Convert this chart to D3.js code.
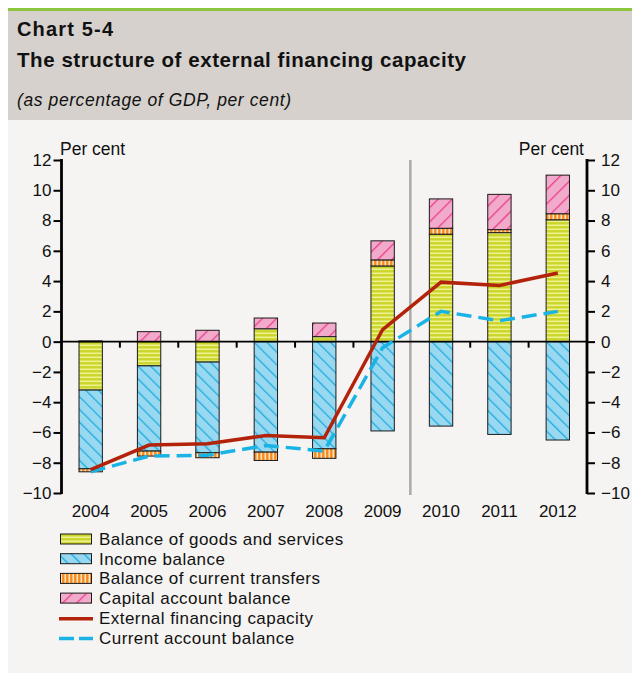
<!DOCTYPE html>
<html><head><meta charset="utf-8">
<script src="https://cdn.jsdelivr.net/npm/d3@7"></script>
<style>body{margin:0;background:#fff}svg{display:block}text{font-family:"Liberation Sans",Arial,sans-serif;fill:#111}</style>
</head><body><svg id="c" width="632" height="674"></svg>
<script>
const years = ["2004","2005","2006","2007","2008","2009","2010","2011","2012"];
const goods = [-3.2, -1.6, -1.35, 0.85, 0.33, 5.0, 7.1, 7.2, 8.05];
const income = [-5.2, -5.63, -5.99, -7.3, -7.08, -5.9, -5.58, -6.13, -6.5];
const transfers = [-0.2, -0.33, -0.33, -0.55, -0.63, 0.4, 0.39, 0.2, 0.4];
const capital = [0.05, 0.66, 0.75, 0.71, 0.9, 1.26, 1.94, 2.33, 2.55];
const efc = [-8.45, -6.83, -6.75, -6.2, -6.35, 0.8, 3.93, 3.71, 4.53];
const cab = [-8.6, -7.56, -7.5, -6.86, -7.23, -0.4, 2.0, 1.38, 2.0];
const yTicks = [-10,-8,-6,-4,-2,0,2,4,6,8,10,12];
const legendLabels = ["Balance of goods and services","Income balance","Balance of current transfers","Capital account balance","External financing capacity","Current account balance"];

const svg = d3.select("#c");
svg.append("rect").attr("x",8).attr("y",8).attr("width",624).attr("height",665).attr("fill","#f5f4f2");
svg.append("rect").attr("x",8).attr("y",11).attr("width",624).attr("height",109).attr("fill","#d6d1cd");
svg.append("rect").attr("x",8).attr("y",8).attr("width",624).attr("height",3).attr("fill","#8cc63f");

svg.append("text").attr("x",17).attr("y",36).style("font-weight","bold").style("font-size","20px")
  .attr("textLength",96).attr("lengthAdjust","spacing").text("Chart 5-4");
svg.append("text").attr("x",17).attr("y",67).style("font-weight","bold").style("font-size","20.5px")
  .attr("textLength",449).attr("lengthAdjust","spacing").text("The structure of external financing capacity");
svg.append("text").attr("x",17).attr("y",106).style("font-style","italic").style("font-size","17.5px")
  .attr("textLength",274).attr("lengthAdjust","spacing").text("(as percentage of GDP, per cent)");

const defs = svg.append("defs");
let p = defs.append("pattern").attr("id","pGoods").attr("patternUnits","userSpaceOnUse").attr("width",4).attr("height",4);
p.append("rect").attr("width",4).attr("height",4).attr("fill","#cbd42a");
p.append("rect").attr("y",0.5).attr("width",4).attr("height",1.6).attr("fill","#eef28e");
p = defs.append("pattern").attr("id","pTrans").attr("patternUnits","userSpaceOnUse").attr("width",4).attr("height",4);
p.append("rect").attr("width",4).attr("height",4).attr("fill","#f58a1f");
p.append("rect").attr("x",0.5).attr("width",1.6).attr("height",4).attr("fill","#fde3bc");
p = defs.append("pattern").attr("id","pInc").attr("patternUnits","userSpaceOnUse").attr("width",9).attr("height",9).attr("patternTransform","rotate(-45)");
p.append("rect").attr("width",9).attr("height",9).attr("fill","#98d9f1");
p.append("rect").attr("x",0).attr("width",1.3).attr("height",9).attr("fill","#22abdd");
p = defs.append("pattern").attr("id","pCap").attr("patternUnits","userSpaceOnUse").attr("width",10).attr("height",10).attr("patternTransform","rotate(45)");
p.append("rect").attr("width",10).attr("height",10).attr("fill","#f2aacb");
p.append("rect").attr("x",0).attr("width",1.3).attr("height",10).attr("fill","#e9408c");

const fills = {goods:"url(#pGoods)", income:"url(#pInc)", transfers:"url(#pTrans)", capital:"url(#pCap)"};

const x0 = 61.5, x1 = 587;
const x = d3.scaleBand().domain(years).range([x0,x1]).paddingInner(0.6).paddingOuter(0.3);
const y = d3.scaleLinear().domain([-10,12]).range([493,160]);
const step = x.step(), bw = x.bandwidth();

const rows = years.map((yr,i)=>({year:yr, goods:goods[i], income:income[i], transfers:transfers[i], capital:capital[i]}));
const keys = ["goods","income","transfers","capital"];
const series = d3.stack().keys(keys).offset(d3.stackOffsetDiverging)(rows);

const xd = x0 + 6*step - 1.5;
svg.append("line").attr("x1",xd).attr("x2",xd).attr("y1",160).attr("y2",495).attr("stroke","#aaaaaa").attr("stroke-width",2.5);

const g = svg.append("g");
series.forEach(s=>{
  g.selectAll(null).data(s.filter(d=>d[1]!==d[0])).join("rect")
    .attr("x",d=>x(d.data.year)).attr("width",bw)
    .attr("y",d=>y(Math.max(d[0],d[1]))).attr("height",d=>Math.abs(y(d[0])-y(d[1])))
    .attr("fill",fills[s.key]).attr("stroke","#1a1a1a").attr("stroke-width",1);
});

svg.append("line").attr("x1",x0).attr("x2",x1).attr("y1",y(0)).attr("y2",y(0)).attr("stroke","#000").attr("stroke-width",1.8);
for(let k=1;k<9;k++){
  const xx = x0 + k*step;
  if(k===6) continue;
  svg.append("line").attr("x1",xx).attr("x2",xx).attr("y1",y(0)).attr("y2",y(0)+6).attr("stroke","#000").attr("stroke-width",2);
}

const axL = d3.axisLeft(y).tickValues(yTicks).tickSize(8).tickPadding(2).tickFormat(d3.format("d"));
const axR = d3.axisRight(y).tickValues(yTicks).tickSize(8).tickPadding(6).tickFormat(d3.format("d"));
function styleAxis(sel){
  sel.select(".domain").remove();
  sel.selectAll(".tick line").attr("stroke","#000").attr("stroke-width",2);
  sel.selectAll(".tick text").style("font-family","'Liberation Sans',Arial,sans-serif").style("font-size","17px").attr("fill","#111");
}
svg.append("g").attr("transform",`translate(${x0},0)`).call(axL).call(styleAxis);
svg.append("g").attr("transform",`translate(${x1},0)`).call(axR).call(styleAxis);
svg.append("line").attr("x1",x0).attr("x2",x0).attr("y1",y(12)-1).attr("y2",y(-10)+1).attr("stroke","#000").attr("stroke-width",2.8);
svg.append("line").attr("x1",x1).attr("x2",x1).attr("y1",y(12)-1).attr("y2",y(-10)+1).attr("stroke","#000").attr("stroke-width",2.8);

svg.append("g").selectAll("text").data(years).join("text")
  .attr("x",d=>x(d)+bw/2).attr("y",517).attr("text-anchor","middle").style("font-size","17px").text(d=>d);

svg.append("text").attr("x",60).attr("y",155).style("font-size","17.5px").text("Per cent");
svg.append("text").attr("x",584).attr("y",155).attr("text-anchor","end").style("font-size","17.5px").text("Per cent");

const line = d3.line().x((d,i)=>x(years[i])+bw/2).y(d=>y(d));
svg.append("path").datum(cab).attr("d",line).attr("fill","none").attr("stroke","#19b3e6").attr("stroke-width",3.5).attr("stroke-dasharray","15,7");
svg.append("path").datum(efc).attr("d",line).attr("fill","none").attr("stroke","#b3230b").attr("stroke-width",3.5);

const lg = svg.append("g");
const lfills = [fills.goods, fills.income, fills.transfers, fills.capital];
legendLabels.forEach((t,i)=>{
  const by = 545 + i*19.7;
  if(i<4){
    lg.append("rect").attr("x",60.5).attr("y",by-11).attr("width",31).attr("height",10).attr("fill",lfills[i]).attr("stroke","#1a1a1a").attr("stroke-width",1);
  } else if(i===4){
    lg.append("line").attr("x1",59).attr("x2",93).attr("y1",by-5).attr("y2",by-5).attr("stroke","#b3230b").attr("stroke-width",3.5);
  } else {
    lg.append("line").attr("x1",59).attr("x2",93).attr("y1",by-5).attr("y2",by-5).attr("stroke","#19b3e6").attr("stroke-width",3.5).attr("stroke-dasharray","15,5");
  }
  lg.append("text").attr("x",99).attr("y",by).style("font-size","17px").style("letter-spacing","0.45px").text(t);
});
</script></body></html>
